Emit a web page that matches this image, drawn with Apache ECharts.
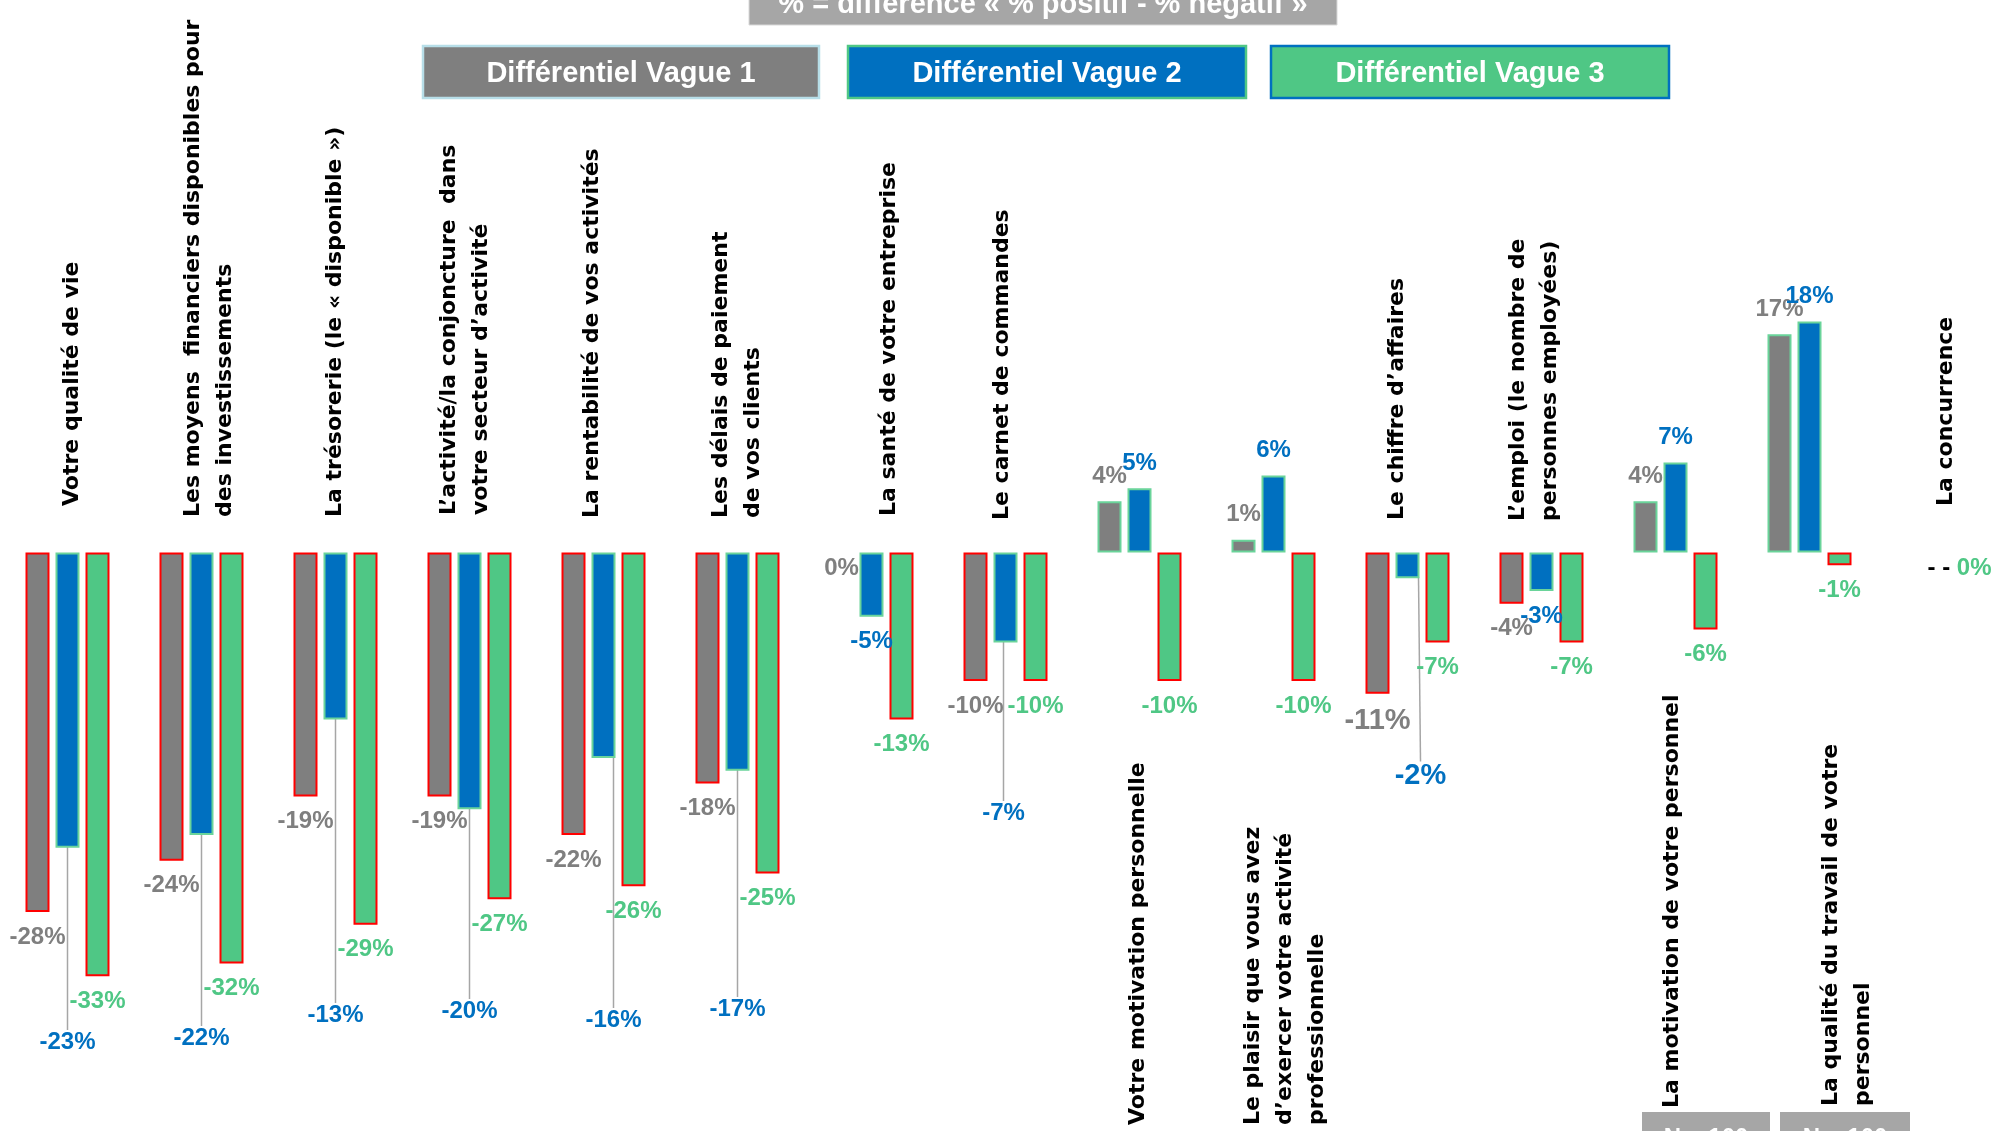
<!DOCTYPE html>
<html>
<head>
<meta charset="utf-8">
<script src="https://cdn.jsdelivr.net/npm/echarts@6.0.0/dist/echarts.min.js"></script>
<style>
  html, body { margin: 0; padding: 0; background: #fff; }
  #chart { width: 1997px; height: 1131px; }
</style>
</head>
<body>
<div id="chart"></div>
<script>
// libellés des items (axe X)
const categories = [
  'Votre qualité de vie',
  'Les moyens  financiers disponibles pour\ndes investissements',
  'La trésorerie (le « disponible »)',
  'L’activité/la conjoncture  dans\nvotre secteur d’activité',
  'La rentabilité de vos activités',
  'Les délais de paiement\nde vos clients',
  'La santé de votre entreprise',
  'Le carnet de commandes',
  'Votre motivation personnelle',
  'Le plaisir que vous avez\nd’exercer votre activité\nprofessionnelle',
  'Le chiffre d’affaires',
  'L’emploi (le nombre de\npersonnes employées)',
  'La motivation de votre personnel',
  'La qualité du travail de votre\npersonnel',
  'La concurrence'
]
const seriesNames = ['Différentiel Vague 1', 'Différentiel Vague 2', 'Différentiel Vague 3']
// % positif - % négatif
const vague1 = [-28, -24, -19, -19, -22, -18, 0, -10, 4, 1, -11, -4, 4, 17, null]
const vague2 = [-23, -22, -13, -20, -16, -17, -5, -7, 5, 6, -2, -3, 7, 18, null]
const vague3 = [-33, -32, -29, -27, -26, -25, -13, -10, -10, -10, -7, -7, -6, -1, 0]

// mise en page : décalage des libellés (dx vers la droite, dy vers le haut)
const labelNudge = [[5, 15], [8, 4], [0, 4], [-4, 6], [-11, 3], [0, 3], [18, 5], [-3, 1],
  [-1, 0], [12, 0], [-10, 1], [-7, 0], [-3, 17], [38, 19], [3, 15]]
// étiquettes bleues déplacées (avec trait de rappel)
const blueLabelY = [1042, 1038, 1015, 1011, 1020, 1009, null, 813, null, null, 776, null, null, null, null]
const blueLabelDx = [0, 0, 0, 0, 10, 0, 0, -2, 0, 0, 13, 0, 0, 0, 0]
const bigLabelIndex = 10

const GREY = '#7f7f7f'
const BLUE = '#0070c0'
const GREEN = '#4fc785'
const RED = '#ff0000'
const PALE = '#6ad49a'
const NUM_FONT = 'Liberation Sans, Arial, sans-serif'

function isLower (i) {
  return Math.max(vague1[i] || 0, vague2[i] || 0, vague3[i] || 0) > 0
}

function makeItems (values, negBorder, posBorder, withLeader) {
  return values.map(function (v, i) {
    if (v == null) return '-'
    const item = {
      value: v,
      itemStyle: { borderColor: v < 0 ? negBorder : posBorder, borderWidth: v === 0 ? 0 : 2 },
      label: { position: v > 0 ? 'top' : 'bottom', distance: v === 0 ? 4 : 13 }
    }
    if (i === bigLabelIndex && values !== vague3) item.label.fontSize = 29
    if (withLeader && blueLabelY[i] != null) {
      item.labelLine = { show: true, lineStyle: { color: '#a6a6a6', width: 1.5 } }
    }
    return item
  })
}

function pct (p) { return p.value + '%' }

const chart = echarts.init(document.getElementById('chart'))
const option = {
  animation: false,
  backgroundColor: '#fff',
  textStyle: { fontFamily: NUM_FONT },
  grid: { left: 0.5, width: 2010, top: 295.7, height: 770.4, outerBoundsMode: 'none', containLabel: false },
  xAxis: {
    type: 'category', data: categories,
    axisLine: { show: false }, axisTick: { show: false }, axisLabel: { show: false }, splitLine: { show: false }
  },
  yAxis: { type: 'value', min: -40, max: 20, show: false, splitLine: { show: false } },
  series: [
    {
      name: seriesNames[0], type: 'bar', barWidth: 24, barGap: '25%',
      itemStyle: { color: GREY },
      label: { show: true, fontFamily: NUM_FONT, fontWeight: 'bold', fontSize: 24, color: GREY, formatter: pct },
      data: makeItems(vague1, RED, PALE, false)
    },
    {
      name: seriesNames[1], type: 'bar', barWidth: 24, barGap: '25%',
      itemStyle: { color: BLUE },
      label: { show: true, fontFamily: NUM_FONT, fontWeight: 'bold', fontSize: 24, color: BLUE, formatter: pct },
      labelLayout: function (p) {
        const y = blueLabelY[p.dataIndex]
        if (y == null) return {}
        return {
          x: p.rect.x + p.rect.width / 2 + blueLabelDx[p.dataIndex],
          y: y,
          align: 'center',
          verticalAlign: 'middle'
        }
      },
      data: makeItems(vague2, PALE, PALE, true)
    },
    {
      name: seriesNames[2], type: 'bar', barWidth: 24, barGap: '25%',
      itemStyle: { color: GREEN },
      label: {
        show: true, fontFamily: NUM_FONT, fontWeight: 'bold', fontSize: 24, color: GREEN,
        formatter: function (p) {
          const i = p.dataIndex
          if (vague1[i] == null && vague2[i] == null) return '{k|- - }{v|' + p.value + '%}'
          return p.value + '%'
        },
        rich: {
          k: { color: '#000', fontFamily: NUM_FONT, fontWeight: 'bold', fontSize: 24 },
          v: { color: GREEN, fontFamily: NUM_FONT, fontWeight: 'bold', fontSize: 24 }
        }
      },
      labelLayout: function (p) {
        const i = p.dataIndex
        if (vague1[i] == null && vague2[i] == null) return { dx: -14 }
        return {}
      },
      data: makeItems(vague3, RED, PALE, false)
    },
    {
      // libellés verticaux des items, placés sur l'axe des catégories
      type: 'custom', silent: true, clip: false, z: 5,
      data: categories.map(function (c, i) { return [i, 0] }),
      renderItem: function (params, api) {
        const i = params.dataIndex
        const x = api.coord([i, 0])[0] + labelNudge[i][0]
        const y = (isLower(i) ? 1125 : 521) - labelNudge[i][1]
        return {
          type: 'text', x: x, y: y, rotation: Math.PI / 2,
          style: {
            text: categories[i], fill: '#000', font: 'bold 22px "DejaVu Sans"',
            lineHeight: 32, align: 'left', verticalAlign: 'middle'
          }
        }
      }
    }
  ],
  graphic: [
    { type: 'rect', shape: { x: 749, y: -30, width: 588, height: 55 }, style: { fill: '#a6a6a6', stroke: '#d9d9d9', lineWidth: 1 } },
    { type: 'text', x: 1043, y: 5, style: { text: '% = différence « % positif - % négatif »', fill: '#fff', font: 'bold 29px "Liberation Sans"', align: 'center', verticalAlign: 'middle' } },
    { type: 'rect', shape: { x: 423, y: 46, width: 396, height: 52 }, style: { fill: GREY, stroke: '#b7dee8', lineWidth: 2.5 } },
    { type: 'text', x: 621, y: 74, style: { text: seriesNames[0], fill: '#fff', font: 'bold 29px "Liberation Sans"', align: 'center', verticalAlign: 'middle' } },
    { type: 'rect', shape: { x: 848, y: 46, width: 398, height: 52 }, style: { fill: BLUE, stroke: GREEN, lineWidth: 2.5 } },
    { type: 'text', x: 1047, y: 74, style: { text: seriesNames[1], fill: '#fff', font: 'bold 29px "Liberation Sans"', align: 'center', verticalAlign: 'middle' } },
    { type: 'rect', shape: { x: 1271, y: 46, width: 398, height: 52 }, style: { fill: GREEN, stroke: BLUE, lineWidth: 2.5 } },
    { type: 'text', x: 1470, y: 74, style: { text: seriesNames[2], fill: '#fff', font: 'bold 29px "Liberation Sans"', align: 'center', verticalAlign: 'middle' } },
    { type: 'rect', shape: { x: 1642, y: 1112, width: 128, height: 40 }, style: { fill: '#a6a6a6' } },
    { type: 'text', x: 1706, y: 1126, style: { text: 'N = 100', fill: '#fff', font: 'bold 24px "Liberation Sans"', align: 'center', verticalAlign: 'top' } },
    { type: 'rect', shape: { x: 1780, y: 1112, width: 130, height: 40 }, style: { fill: '#a6a6a6' } },
    { type: 'text', x: 1845, y: 1126, style: { text: 'N = 100', fill: '#fff', font: 'bold 24px "Liberation Sans"', align: 'center', verticalAlign: 'top' } }
  ]
}
chart.setOption(option)
</script>
</body>
</html>
